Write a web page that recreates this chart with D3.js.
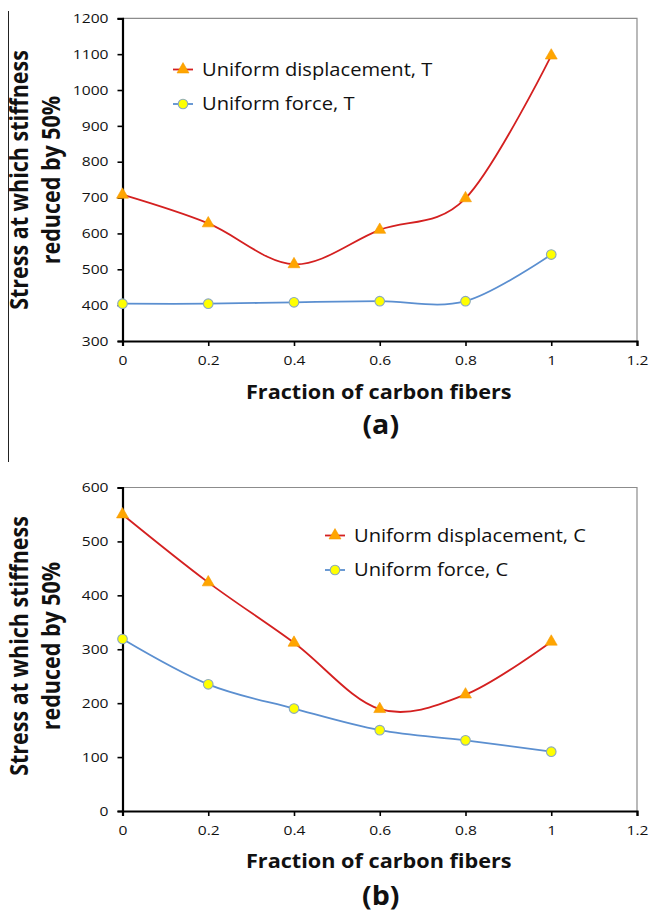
<!DOCTYPE html>
<html><head><meta charset="utf-8">
<script src="https://cdn.jsdelivr.net/npm/d3@7"></script>
<style>body{margin:0;background:#fff} svg{display:block}</style>
</head><body>
<svg id="c" width="649" height="913"></svg>
<script>
// ---- data ----
const fractions = [0, 0.2, 0.4, 0.6, 0.8, 1.0];
const dispT  = [708, 628, 514, 610, 698, 1096];
const forceT = [404, 404, 408, 411, 411, 541];
const dispC  = [550, 424, 312, 189, 216, 314];
const forceC = [319, 235, 190, 150, 131, 110];
const xTicks  = [0, 0.2, 0.4, 0.6, 0.8, 1, 1.2];
const yTicksA = [300, 400, 500, 600, 700, 800, 900, 1000, 1100, 1200];
const yTicksB = [0, 100, 200, 300, 400, 500, 600];
const legendA = ["Uniform displacement, T", "Uniform force, T"];
const legendB = ["Uniform displacement, C", "Uniform force, C"];
const xTitle = "Fraction of carbon fibers";
const yTitle = ["Stress at which stiffness", "reduced by 50%"];
const panelLabels = ["(a)", "(b)"];

const FONT = "'Open Sans', sans-serif";
const RED = "#d42020", BLUE = "#5b8fd0", ORANGE = "#ffa500", YELLOW = "#ffff00", CSTROKE = "#8aa8c0";
const SX = 1.2; // the original figure is stretched horizontally

const svg = d3.select("#c");

// left vertical rule
svg.append("line").attr("x1", 8.5).attr("x2", 8.5).attr("y1", 11).attr("y2", 462)
  .attr("stroke", "#222").attr("stroke-width", 1);

const panels = [
  {top: 18.3, bottom: 341, yDomain: [300, 1200], yTicks: yTicksA, disp: dispT, force: forceT,
   legend: legendA, legX: 173, legY: 69.5, legDy: 34.5, titleY: 399, labelY: 434, yTitleCY: 180, label: panelLabels[0]},
  {top: 487.5, bottom: 811, yDomain: [0, 600], yTicks: yTicksB, disp: dispC, force: forceC,
   legend: legendB, legX: 325, legY: 535.5, legDy: 34.5, titleY: 868, labelY: 905, yTitleCY: 646, label: panelLabels[1]}
];

const x = d3.scaleLinear().domain([0, 1.2]).range([122.5, 637]);

panels.forEach(p => {
  const y = d3.scaleLinear().domain(p.yDomain).range([p.bottom, p.top]);
  const g = svg.append("g");

  // top and right frame
  g.append("path")
    .attr("d", `M${x(0)},${p.top}H${x(1.2)}V${p.bottom}`)
    .attr("fill", "none").attr("stroke", "#8c8c8c").attr("stroke-width", 1.2);

  // y axis
  const ya = g.append("g").attr("transform", `translate(${x(0)},0)`)
    .call(d3.axisLeft(y).tickValues(p.yTicks).tickSize(5).tickPadding(9).tickFormat(d3.format("d")));
  // x axis
  const xa = g.append("g").attr("transform", `translate(0,${p.bottom})`)
    .call(d3.axisBottom(x).tickValues(xTicks).tickSize(5).tickPadding(10).tickFormat(d => String(+d.toFixed(1))));
  [ya, xa].forEach(a => {
    a.select(".domain").attr("stroke", "#000").attr("stroke-width", 2.2);
    a.selectAll(".tick line").attr("stroke", "#000").attr("stroke-width", 1.6);
    a.selectAll(".tick text").attr("fill", "#111").style("font-family", FONT).style("font-size", "13px");
  });
  ya.selectAll(".tick text").each(function () {
    const t = d3.select(this);
    const tx = +t.attr("x");
    t.attr("x", 0).attr("transform", `translate(${tx},0) scale(${SX},1)`);
  });
  xa.selectAll(".tick text").attr("transform", `scale(${SX},1)`);

  // curves
  const line = d3.line().x((d, i) => x(fractions[i])).y(d => y(d)).curve(d3.curveCardinal.tension(0));
  g.append("path").datum(p.force).attr("d", line).attr("fill", "none").attr("stroke", BLUE).attr("stroke-width", 1.8);
  g.append("path").datum(p.disp).attr("d", line).attr("fill", "none").attr("stroke", RED).attr("stroke-width", 1.8);

  const tri = d3.symbol().type(d3.symbolTriangle).size(62);
  g.selectAll(".tri").data(p.disp).enter().append("path")
    .attr("transform", (d, i) => `translate(${x(fractions[i])},${y(d)})`)
    .attr("d", tri).attr("fill", ORANGE).attr("stroke", "#f59a00").attr("stroke-width", 0.6);
  g.selectAll(".cir").data(p.force).enter().append("circle")
    .attr("cx", (d, i) => x(fractions[i])).attr("cy", d => y(d)).attr("r", 4.8)
    .attr("fill", YELLOW).attr("stroke", CSTROKE).attr("stroke-width", 1.1);

  // legend
  const lg = g.append("g");
  [[RED, "tri"], [BLUE, "cir"]].forEach((s, i) => {
    const cy = p.legY + i * p.legDy;
    lg.append("line").attr("x1", p.legX).attr("x2", p.legX + 20).attr("y1", cy).attr("y2", cy)
      .attr("stroke", s[0]).attr("stroke-width", 1.8);
    if (s[1] === "tri") {
      lg.append("path").attr("transform", `translate(${p.legX + 10},${cy})`).attr("d", tri)
        .attr("fill", ORANGE).attr("stroke", "#f59a00").attr("stroke-width", 0.6);
    } else {
      lg.append("circle").attr("cx", p.legX + 10).attr("cy", cy).attr("r", 4.8)
        .attr("fill", YELLOW).attr("stroke", CSTROKE).attr("stroke-width", 1.1);
    }
    lg.append("text").attr("transform", `translate(${p.legX + 29},${cy}) scale(1.15,1)`).attr("dy", "0.36em")
      .style("font-family", FONT).style("font-size", "17.5px").attr("fill", "#111").text(p.legend[i]);
  });

  // titles
  const cx = (x(0) + x(1.2)) / 2;
  g.append("text").attr("transform", `translate(${cx - 1},${p.titleY}) scale(1.14,1)`).attr("text-anchor", "middle")
    .style("font-family", FONT).style("font-weight", "bold").style("font-size", "19px").attr("fill", "#111").text(xTitle);
  g.append("text").attr("transform", `translate(${cx + 1},${p.labelY}) scale(1.1,1)`).attr("text-anchor", "middle")
    .style("font-family", FONT).style("font-weight", "bold").style("font-size", "26px").attr("fill", "#111").text(p.label);
  yTitle.forEach((t, i) => {
    g.append("text").attr("transform", `translate(${i === 0 ? 28 : 60},${p.yTitleCY}) rotate(-90) scale(1,1.15)`)
      .attr("text-anchor", "middle")
      .style("font-family", FONT).style("font-weight", "bold").style("font-size", "21.5px").attr("fill", "#111").text(t);
  });
});
</script>
</body></html>
